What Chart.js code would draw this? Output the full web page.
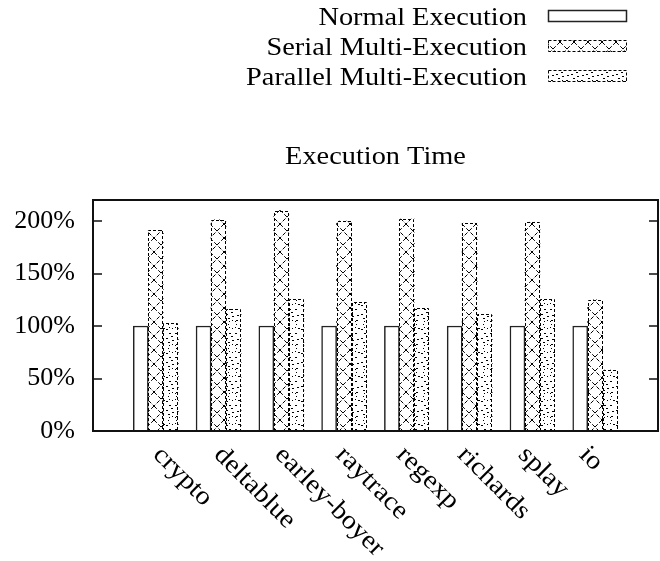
<!DOCTYPE html>
<html><head><meta charset="utf-8">
<script src="https://cdn.jsdelivr.net/npm/chart.js@4"></script>
<style>html,body{margin:0;padding:0;background:#fff}canvas{display:block}</style>
</head><body>
<canvas id="c" width="660" height="561"></canvas>
<script>
const categories = ['crypto','deltablue','earley-boyer','raytrace','regexp','richards','splay','io'];
const seriesNames = ['Normal Execution','Serial Multi-Execution','Parallel Multi-Execution'];
const normalExec = [100,100,100,100,100,100,100,100];
const serialExec = [191,201,210,200,202,198,199,125];
const parallelExec = [103,116,126,123,117,111,126,58];
const yTickValues = [0,50,100,150,200];
const chartTitle = 'Execution Time';

const FONT = '"Liberation Serif", "Times New Roman", serif';
const TEXT_STRETCH = 1.09;
const canvas = document.getElementById('c');
const mainCtx = canvas.getContext('2d');

function makeSerialPattern(){
  const s = 14;
  const c = document.createElement('canvas'); c.width = s; c.height = s;
  const g = c.getContext('2d');
  g.fillStyle = '#fff'; g.fillRect(0,0,s,s);
  g.strokeStyle = '#000'; g.lineWidth = 1;
  g.setLineDash([4,2]);
  g.beginPath();
  g.moveTo(0,0); g.lineTo(s,s);
  g.moveTo(s,0); g.lineTo(0,s);
  g.stroke();
  return mainCtx.createPattern(c,'repeat');
}
function makeParallelPattern(){
  const w = 15, h = 24;
  const c = document.createElement('canvas'); c.width = w; c.height = h;
  const g = c.getContext('2d');
  g.fillStyle = '#fff'; g.fillRect(0,0,w,h);
  g.fillStyle = '#000';
  const cx = 7, cy = 12, r = 4;
  for (let k = 0; k < 8; k++) {
    const a = k * Math.PI / 4;
    g.fillRect(Math.round(cx + r*Math.cos(a)), Math.round(cy + r*Math.sin(a)), 1, 1);
  }
  [[1,2],[12,3],[6,0],[3,6],[11,8],[1,17],[13,16],[4,21],[10,21],[7,4]].forEach(p => g.fillRect(p[0],p[1],2,1));
  return mainCtx.createPattern(c,'repeat');
}
const serialPattern = makeSerialPattern();
const parallelPattern = makeParallelPattern();
const fills = ['#ffffff', serialPattern, parallelPattern];

function toPoints(arr){ return arr.map((v,i)=>({x:i, y:v})); }

// label anchor positions follow a slightly compressed category spacing (as in the reference)
const LABEL_SPAN = 9.28;
function labelValue(i){ return -1 + (i + 1.0) * 9 / LABEL_SPAN; }

const decorPlugin = {
  id: 'decor',
  afterDatasetsDraw(chart){
    const ctx = chart.ctx, a = chart.chartArea;
    ctx.save();
    [1,2].forEach(di => {
      chart.getDatasetMeta(di).data.forEach(el => {
        const p = el.getProps(['x','y','base','width'], true);
        const l = Math.round(p.x - p.width/2) + 0.5;
        const r = Math.round(p.x + p.width/2) - 0.5;
        const t = Math.round(p.y) + 0.5;
        const b = Math.round(p.base);
        ctx.setLineDash([3,2]); ctx.strokeStyle = '#000'; ctx.lineWidth = 1;
        ctx.beginPath(); ctx.moveTo(l,b); ctx.lineTo(l,t); ctx.lineTo(r,t); ctx.lineTo(r,b); ctx.stroke();
      });
    });
    ctx.setLineDash([]);
    ctx.strokeStyle = '#111'; ctx.lineWidth = 2;
    ctx.strokeRect(a.left, a.top, a.right - a.left, a.bottom - a.top);
    const ys = chart.scales.y;
    ctx.lineWidth = 1.5;
    yTickValues.forEach(v => {
      if (v === 0) return;
      const py = Math.round(ys.getPixelForValue(v));
      ctx.beginPath();
      ctx.moveTo(a.left, py); ctx.lineTo(a.left + 9, py);
      ctx.moveTo(a.right, py); ctx.lineTo(a.right - 9, py);
      ctx.stroke();
    });
    ctx.restore();
  },
  afterDraw(chart){
    const ctx = chart.ctx, a = chart.chartArea;
    ctx.save();
    ctx.fillStyle = '#000';
    ctx.font = '26px ' + FONT;
    // x labels
    const xs = chart.scales.x;
    ctx.textAlign = 'left'; ctx.textBaseline = 'middle';
    categories.forEach((name,i) => {
      const px = xs.getPixelForValue(labelValue(i)) + 3;
      ctx.save(); ctx.translate(px, a.bottom + 20); ctx.rotate(Math.PI/4); ctx.scale(TEXT_STRETCH, 1);
      ctx.fillText(name, 0, 0); ctx.restore();
    });
    // title
    ctx.textAlign = 'center'; ctx.textBaseline = 'alphabetic';
    ctx.save(); ctx.translate((a.left + a.right)/2, 164); ctx.scale(TEXT_STRETCH, 1);
    ctx.fillText(chartTitle, 0, 0); ctx.restore();
    // legend
    const rowsBase = [25, 55, 85];
    seriesNames.forEach((name,i) => {
      ctx.textAlign = 'right'; ctx.fillStyle = '#000';
      ctx.save(); ctx.translate(527, rowsBase[i]); ctx.scale(TEXT_STRETCH, 1);
      ctx.fillText(name, 0, 0); ctx.restore();
      const bx = 548, bw = 79, bh = 12, by = rowsBase[i] - 15;
      ctx.fillStyle = fills[i]; ctx.fillRect(bx, by, bw, bh);
      if (i === 0) { ctx.setLineDash([]); ctx.strokeStyle = '#222'; ctx.lineWidth = 1.5; }
      else { ctx.setLineDash([3,2]); ctx.strokeStyle = '#000'; ctx.lineWidth = 1; }
      ctx.strokeRect(bx + 0.5, by + 0.5, bw - 1, bh - 1);
      ctx.setLineDash([]);
    });
    ctx.restore();
  }
};

new Chart(canvas, {
  type: 'bar',
  data: {
    datasets: [
      { label: seriesNames[0], data: toPoints(normalExec), backgroundColor: fills[0], borderColor: '#222', borderWidth: 1.5 },
      { label: seriesNames[1], data: toPoints(serialExec), backgroundColor: fills[1], borderWidth: 0 },
      { label: seriesNames[2], data: toPoints(parallelExec), backgroundColor: fills[2], borderWidth: 0 }
    ]
  },
  options: {
    responsive: false,
    animation: false,
    devicePixelRatio: 1,
    barThickness: 15,
    layout: { padding: { top: 200, right: 2, bottom: 0, left: 0 } },
    plugins: { legend: { display: false }, title: { display: false }, tooltip: { enabled: false } },
    scales: {
      x: {
        type: 'linear', min: -1, max: 8, offset: false,
        ticks: { display: false }, grid: { display: false, offset: false }, border: { display: false },
        afterFit(s){ s.height = 130; }
      },
      y: {
        min: 0, max: 220,
        afterBuildTicks(s){ s.ticks = yTickValues.map(v => ({ value: v })); },
        ticks: { callback: v => v + '%', font: { family: FONT, size: 26 }, color: '#000', padding: 10, autoSkip: false },
        grid: { display: false }, border: { display: false },
        afterFit(s){ s.width = 93; }
      }
    }
  },
  plugins: [decorPlugin]
});
</script>
</body></html>
